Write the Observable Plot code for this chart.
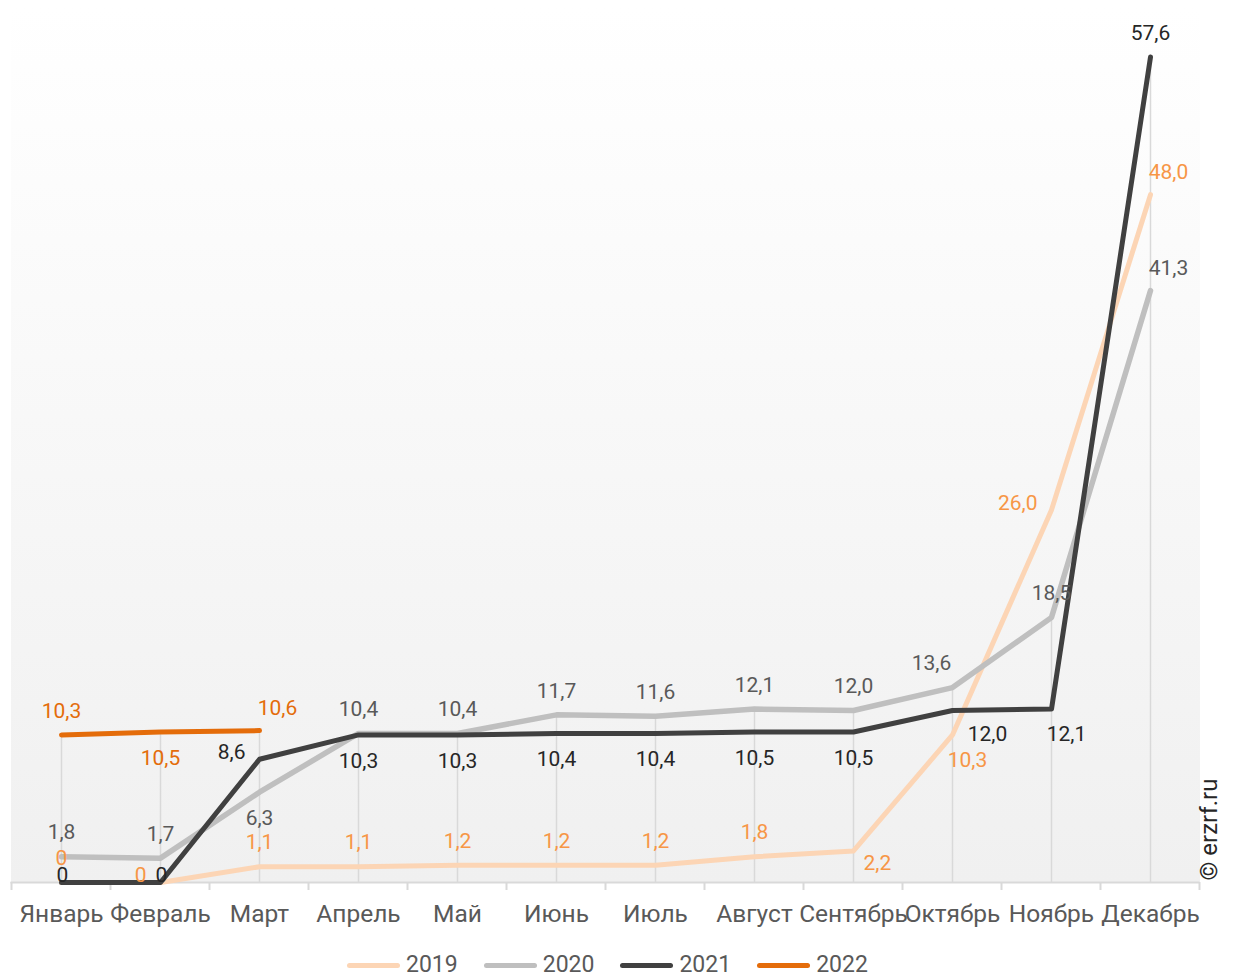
<!DOCTYPE html>
<html><head><meta charset="utf-8">
<script src="https://cdn.jsdelivr.net/npm/d3@7"></script>
<script src="https://cdn.jsdelivr.net/npm/@observablehq/plot@0.6"></script>
<style>
body{margin:0;background:#fff;font-family:Roboto, "Noto Sans", sans-serif;}
#wrap{position:relative;width:1236px;height:979px;overflow:hidden;}
#legend{position:absolute;left:347px;top:952px;display:flex;align-items:center;font-size:23px;color:#595959;line-height:26px;}
.item{display:flex;align-items:center;margin-right:26px}
.sw{width:53px;height:5px;border-radius:3px;margin-right:6px}
</style></head>
<body><div id="wrap"><div id="chart"></div><div id="legend"></div></div>
<script>
const months = ["Январь","Февраль","Март","Апрель","Май","Июнь","Июль","Август","Сентябрь","Октябрь","Ноябрь","Декабрь"];
const seriesNames = ["2019","2020","2021","2022"];
const v2019 = [0, 0, 1.1, 1.1, 1.2, 1.2, 1.2, 1.8, 2.2, 10.3, 26.0, 48.0];
const v2020 = [1.8, 1.7, 6.3, 10.4, 10.4, 11.7, 11.6, 12.1, 12.0, 13.6, 18.5, 41.3];
const v2021 = [0, 0, 8.6, 10.3, 10.3, 10.4, 10.4, 10.5, 10.5, 12.0, 12.1, 57.6];
const v2022 = [10.3, 10.5, 10.6];
// label placement codes per point
const pos2019 = ["t","l","t","t","t","t","t","t","r","br","l","tr"];
const pos2020 = ["t","t","b","t","t","t","t","t","t","tl","t","tr"];
const pos2021 = ["c","c","l","b","b","b","b","b","b","brr","br","t"];
const pos2022 = ["t","b","tr"];
const lineColors = ["#fcd5b5","#bfbfbf","#404040","#e46c0a"];
const labelColors = ["#f79646","#595959","#262626","#e46c0a"];
const lineWidths = [5, 5.5, 5, 5];

const values = [v2019, v2020, v2021, v2022];
const positions = [pos2019, pos2020, pos2021, pos2022];
const offsets = {t:[0,-24,"middle"], b:[0,26,"middle"], tl:[-21,-24,"middle"], tr:[18,-22,"middle"],
  br:[15,25,"middle"], brr:[35,24,"middle"], r:[10,12,"start"], l:[-14,-7,"end"], c:[1,-7,"middle"]};

const fmt = v => v === 0 ? "0" : v.toFixed(1).replace(".", ",");

const series = seriesNames.map((name, s) => values[s].map((v, i) => ({series: name, month: months[i], value: v, pos: positions[s][i], label: fmt(v)})));

// drop lines: top of 2020-2022 series at each month
const drops = months.map((m, i) => ({month: m, top: d3.max([v2020[i], v2021[i], v2022[i]].filter(v => v !== undefined))}));

const boundaryTicks = (index, scales, values, dims) => {
  const x = scales.x;
  const step = x(months[1]) - x(months[0]);
  const g = d3.create("svg:g");
  const y0 = dims.height - dims.marginBottom;
  const xs = months.map(m => x(m) - step / 2).concat([x(months[months.length - 1]) + step / 2]);
  g.selectAll("line").data(xs).join("line")
    .attr("x1", d => d).attr("x2", d => d).attr("y1", y0).attr("y2", y0 + 8)
    .attr("stroke", "#d9d9d9").attr("stroke-width", 2);
  return g.node();
};

const marks = [
  Plot.frame({fill: "url(#bg)", stroke: null}),
  Plot.ruleX(drops, {x: "month", y1: 0, y2: "top", stroke: "#d9d9d9", strokeWidth: 1.5}),
  Plot.ruleY([0], {stroke: "#d9d9d9", strokeWidth: 2}),
  boundaryTicks,
  Plot.axisX({tickSize: 0, tickPadding: 22, fontSize: 24.5, fill: "#595959"}),
];
series.forEach((data, s) => {
  marks.push(Plot.line(data, {x: "month", y: "value", stroke: lineColors[s], strokeWidth: lineWidths[s], strokeLinejoin: "round", strokeLinecap: "round"}));
});
series.forEach((data, s) => {
  Object.entries(offsets).forEach(([code, [dx, dy, anchor]]) => {
    const sub = data.filter(d => d.pos === code);
    if (sub.length) marks.push(Plot.text(sub, {x: "month", y: "value", text: "label", fill: labelColors[s], fontSize: 21, dx, dy, textAnchor: anchor}));
  });
});
marks.push(Plot.text(["© erzrf.ru"], {frameAnchor: "bottom-right", text: d => d, rotate: -90, textAnchor: "start", dx: 17, dy: -2, fontSize: 24, fill: "#262626"}));

const chart = Plot.plot({
  width: 1236, height: 940,
  marginTop: 7, marginBottom: 58, marginLeft: 10.5, marginRight: 36.5,
  style: {fontFamily: "Roboto, 'Noto Sans', sans-serif", background: "transparent", overflow: "visible"},
  x: {type: "point", domain: months, padding: 0.5, label: null, axis: null},
  y: {domain: [0, 61.06], axis: null},
  marks
});
const svg = d3.select(chart);
const defs = svg.insert("defs", ":first-child");
const grad = defs.append("linearGradient").attr("id", "bg").attr("x1", 0).attr("y1", 0).attr("x2", 0).attr("y2", 1);
grad.append("stop").attr("offset", "0%").attr("stop-color", "#ffffff");
grad.append("stop").attr("offset", "100%").attr("stop-color", "#f0f0f0");
document.getElementById("chart").appendChild(chart);

const legend = d3.select("#legend");
seriesNames.forEach((n, s) => {
  const it = legend.append("div").attr("class", "item");
  it.append("div").attr("class", "sw").style("background", lineColors[s]);
  it.append("span").text(n);
});
</script></body></html>
